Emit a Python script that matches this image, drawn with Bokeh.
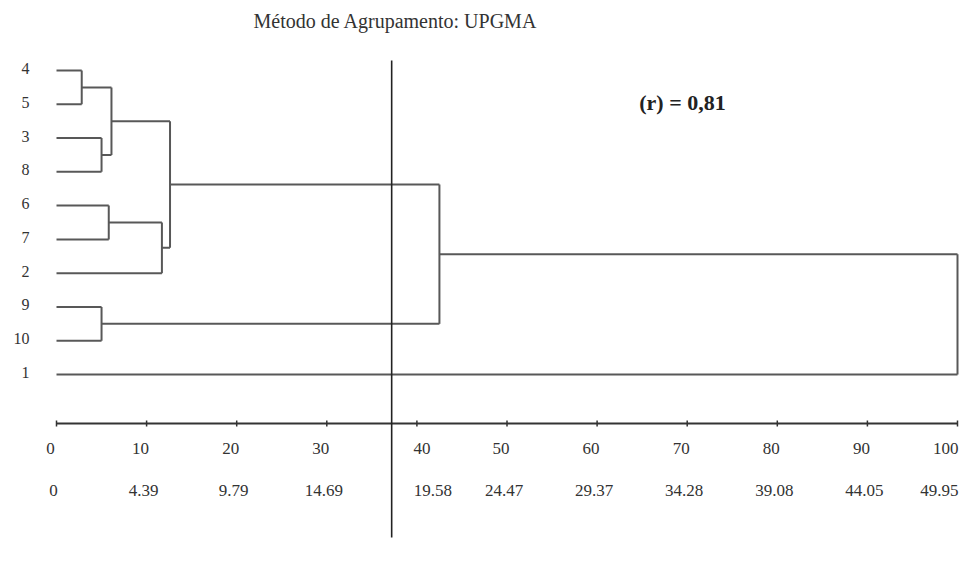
from bokeh.plotting import figure
from bokeh.models import Range1d, ColumnDataSource
from bokeh.core.properties import value
from bokeh.embed import file_html
from bokeh.resources import INLINE

# ---- data ----
leaf_labels = ["4", "5", "3", "8", "6", "7", "2", "9", "10", "1"]
# linkage: node ids 0-9 are leaves (in display order), 10+ are merged clusters
merge_left = [0, 2, 10, 4, 13, 12, 7, 15, 17]
merge_right = [1, 3, 11, 5, 6, 14, 8, 16, 9]
merge_height = [2.8, 5.0, 6.1, 5.8, 11.7, 12.6, 5.0, 42.5, 100.0]
cut_level = 37.2
tick_values = [0, 10, 20, 30, 40, 50, 60, 70, 80, 90, 100]
tick_labels_top = ["0", "10", "20", "30", "40", "50", "60", "70", "80", "90", "100"]
tick_labels_bottom = ["0", "4.39", "9.79", "14.69", "19.58", "24.47", "29.37",
                      "34.28", "39.08", "44.05", "49.95"]
title_text = "Método de Agrupamento: UPGMA"
corr_text = "(r) = 0,81"

# ---- layout (picture pixels -> data) ----
W, H = 959, 552
X_PX0, X_PX_PER = 56.0, 9.01     # x pixel of value 0, px per unit
Y_PX0, Y_PX_PER = 70.0, 33.78    # y pixel of first leaf, px per leaf

x_start = -X_PX0 / X_PX_PER
x_end = x_start + W / X_PX_PER
y_top = -Y_PX0 / Y_PX_PER
y_bot = y_top + H / Y_PX_PER


def px_x(px):
    return x_start + px / X_PX_PER


def px_y(py):
    return y_top + py / Y_PX_PER


p = figure(width=W, height=H, output_backend="svg", toolbar_location=None,
           x_range=Range1d(x_start, x_end), y_range=Range1d(y_bot, y_top),
           min_border=0, min_border_left=0, min_border_right=0,
           min_border_top=0, min_border_bottom=0)
p.axis.visible = False
p.grid.visible = False
p.outline_line_color = None
p.background_fill_color = "white"
p.border_fill_color = "white"

FONT = value("Liberation Serif")

# ---- dendrogram ----
n = len(leaf_labels)
node_x = {i: 0.0 for i in range(n)}
node_y = {i: float(i) for i in range(n)}
hx0, hx1, hy = [], [], []
vx, vy0, vy1 = [], [], []
for k, (a, b, h) in enumerate(zip(merge_left, merge_right, merge_height)):
    nid = n + k
    for c in (a, b):
        hx0.append(node_x[c]); hx1.append(h); hy.append(node_y[c])
    vx.append(h); vy0.append(node_y[a]); vy1.append(node_y[b])
    node_x[nid] = h
    node_y[nid] = (node_y[a] + node_y[b]) / 2

dcol = "#585858"
p.segment(x0=hx0, x1=hx1, y0=hy, y1=hy, line_color=dcol, line_width=2)
p.segment(x0=vx, x1=vx, y0=vy0, y1=vy1, line_color=dcol, line_width=2)

# leaf labels
p.text(x=[0] * n, y=list(range(n)), text=leaf_labels, text_align="right",
       text_baseline="middle", x_offset=-27, y_offset=-2,
       text_font=FONT, text_font_size="16px", text_color="#333333")

# ---- bottom scale ----
axis_y = px_y(423)
tick_h = 3 / Y_PX_PER
p.segment(x0=[tick_values[0]], x1=[tick_values[-1]], y0=[axis_y], y1=[axis_y],
          line_color="#333333", line_width=2)
p.segment(x0=tick_values, x1=tick_values, y0=[axis_y - tick_h] * len(tick_values),
          y1=[axis_y + tick_h] * len(tick_values), line_color="#333333", line_width=1.5)

row1_y, row2_y = px_y(448), px_y(490)
last = len(tick_values) - 1


def nudges(base, near_cut):
    # labels next to the cut line are pushed to its right side
    return [near_cut if abs(t - cut_level) < 5 else base for t in tick_values]


src1 = ColumnDataSource(dict(x=tick_values[:last], y=[row1_y] * last,
                             t=tick_labels_top[:last], dx=nudges(-6, 5)[:last]))
src2 = ColumnDataSource(dict(x=tick_values[:last], y=[row2_y] * last,
                             t=tick_labels_bottom[:last], dx=nudges(-3, 16)[:last]))
for src in (src1, src2):
    p.text(x="x", y="y", text="t", x_offset="dx", source=src,
           text_align="center", text_baseline="middle",
           text_font=FONT, text_font_size="17px", text_color="#333333")
# last labels kept inside the canvas
p.text(x=tick_values[last:], y=[row1_y], text=tick_labels_top[last:],
       text_align="right", text_baseline="middle", x_offset=1,
       text_font=FONT, text_font_size="17px", text_color="#333333")
p.text(x=tick_values[last:], y=[row2_y], text=tick_labels_bottom[last:],
       text_align="right", text_baseline="middle", x_offset=1,
       text_font=FONT, text_font_size="17px", text_color="#333333")

# ---- cut line ----
p.segment(x0=[cut_level], x1=[cut_level], y0=[px_y(60)], y1=[px_y(537)],
          line_color="#222222", line_width=1.6)

# ---- texts ----
p.text(x=[px_x(395)], y=[px_y(20)], text=[title_text], text_align="center",
       text_baseline="middle", text_font=FONT,
       text_font_size="20px", text_color="#333333")
p.text(x=[px_x(682)], y=[px_y(102)], text=[corr_text], text_align="center",
       text_baseline="middle", text_font=FONT,
       text_font_size="22px", text_font_style="bold", text_color="#222222")

open("out.html", "w").write(file_html(p, INLINE))
